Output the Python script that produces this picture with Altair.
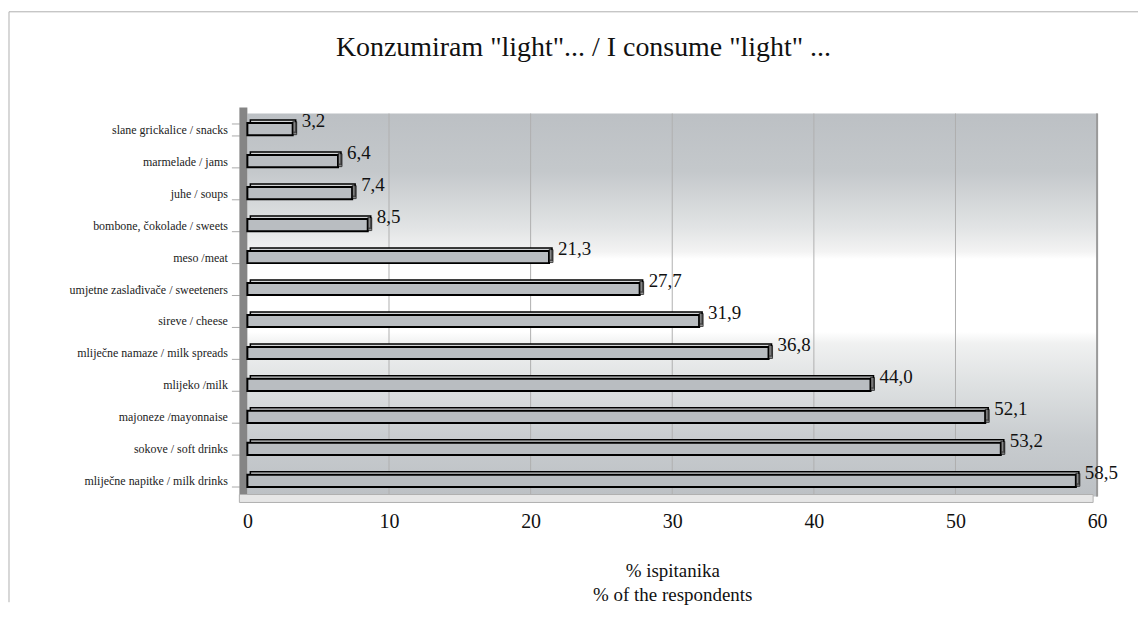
import altair as alt
import pandas as pd

categories = [
    "slane grickalice / snacks",
    "marmelade / jams",
    "juhe / soups",
    "bombone, čokolade / sweets",
    "meso /meat",
    "umjetne zaslađivače / sweeteners",
    "sireve / cheese",
    "mliječne namaze / milk spreads",
    "mlijeko /milk",
    "majoneze /mayonnaise",
    "sokove / soft drinks",
    "mliječne napitke / milk drinks",
]
values = [3.2, 6.4, 7.4, 8.5, 21.3, 27.7, 31.9, 36.8, 44.0, 52.1, 53.2, 58.5]
x_ticks = [0, 10, 20, 30, 40, 50, 60]
title_text = 'Konzumiram "light"... / I consume "light" ...'

df = pd.DataFrame({"cat": categories, "v": values})
ticks_df = pd.DataFrame({"t": x_ticks[1:]})
one = pd.DataFrame({"a": [0]})
title_df = pd.DataFrame({"txt": [title_text]})

FONT = "Liberation Serif"
W, H = 852, 384

y_enc = alt.Y("cat:N", sort=categories, title=None,
              scale=alt.Scale(paddingInner=0.62, paddingOuter=0.3),
              axis=alt.Axis(labelFont=FONT, labelFontSize=12, labelColor="#222",
                            tickColor="#aaa", tickSize=8, tickBand="extent",
                            domain=False, labelPadding=4, offset=8))
x_enc = alt.X("v:Q", title=["% ispitanika", "% of the respondents"],
              scale=alt.Scale(domain=[0, 60], nice=False),
              axis=alt.Axis(values=x_ticks, labelFont=FONT, labelFontSize=20,
                            labelColor="#111", titleFont=FONT, titleFontSize=19,
                            titleFontWeight="normal", titleColor="#111",
                            titlePadding=30, titleLineHeight=24,
                            labelPadding=15, domain=False,
                            ticks=False, grid=False, labelFlush=False))

bg = alt.Chart(one).mark_rect(
    color=alt.LinearGradient(
        gradient="linear", x1=0, x2=0, y1=0, y2=1,
        stops=[
            alt.GradientStop(offset=0, color="#bcc0c4"),
            alt.GradientStop(offset=0.15, color="#c4c8cb"),
            alt.GradientStop(offset=0.3, color="#e2e4e5"),
            alt.GradientStop(offset=0.36, color="#f3f3f3"),
            alt.GradientStop(offset=0.38, color="#ffffff"),
            alt.GradientStop(offset=0.57, color="#ffffff"),
            alt.GradientStop(offset=0.6, color="#f0f1f1"),
            alt.GradientStop(offset=0.72, color="#dcdfe0"),
            alt.GradientStop(offset=0.85, color="#c8cccf"),
            alt.GradientStop(offset=1, color="#bcc0c4"),
        ],
    )
).encode(x=alt.value(0), x2=alt.value(W), y=alt.value(0), y2=alt.value(H))

wall = alt.Chart(one).mark_rect(color="#858585").encode(
    x=alt.value(-8), x2=alt.value(0), y=alt.value(-6), y2=alt.value(H))

right_edge = alt.Chart(one).mark_rule(color="#9a9a9a", strokeWidth=2).encode(
    x=alt.value(W), y=alt.value(0), y2=alt.value(H))

floor = alt.Chart(one).mark_rect(
    color="#e6e6e6", stroke="#b0b0b0", strokeWidth=1).encode(
    x=alt.value(-8), x2=alt.value(W - 4), y=alt.value(H - 2), y2=alt.value(H + 6))

border_top = alt.Chart(one).mark_rule(color="#b0b0b0", strokeWidth=1).encode(
    x=alt.value(-239), x2=alt.value(893), y=alt.value(-102))
border_left = alt.Chart(one).mark_rule(color="#b0b0b0", strokeWidth=1).encode(
    x=alt.value(-239), y=alt.value(-102), y2=alt.value(490))

title_mark = alt.Chart(title_df).mark_text(
    font=FONT, fontSize=28, color="#111", align="center", baseline="middle").encode(
    text="txt:N", x=alt.value(337), y=alt.value(-66))

axis_layer = alt.Chart(df).mark_point(opacity=0).encode(x=x_enc, y=y_enc)

grid = alt.Chart(ticks_df).mark_rule(color="#b0b0b0", strokeWidth=1).encode(
    x=alt.X("t:Q"), y=alt.value(0), y2=alt.value(H))

top_face = alt.Chart(df).mark_bar(
    fill="#d2d4d6", stroke="#000", strokeWidth=1.5, xOffset=3, yOffset=-3
).encode(x=alt.X("v:Q"), y=alt.Y("cat:N", sort=categories))

front = alt.Chart(df).mark_bar(
    fill="#b9bdc1", stroke="#000", strokeWidth=2).encode(
    x=alt.X("v:Q"), y=alt.Y("cat:N", sort=categories))

side = alt.Chart(df).mark_tick(
    color="#6a6a6a", thickness=4, size=13, xOffset=2, yOffset=-1, orient="vertical",
    stroke="#000", strokeWidth=1).encode(
    x=alt.X("v:Q"), y=alt.Y("cat:N", sort=categories))

labels = alt.Chart(df).mark_text(
    align="left", baseline="bottom", dx=9, dy=2, font=FONT, fontSize=19,
    color="#111").encode(
    x=alt.X("v:Q"), y=alt.Y("cat:N", sort=categories),
    text=alt.Text("lbl:N")).transform_calculate(
    lbl="replace(format(datum.v, '.1f'), '.', ',')")

chart = alt.layer(bg, wall, grid, right_edge, floor, border_top, border_left,
                  title_mark, axis_layer, top_face, front, side, labels).properties(
    width=W, height=H,
    padding={"left": 0, "top": 2, "right": 0, "bottom": 0},
    background="white",
).configure_view(stroke=None)

chart.save("out.html", embed_options={"renderer": "svg", "actions": False})
